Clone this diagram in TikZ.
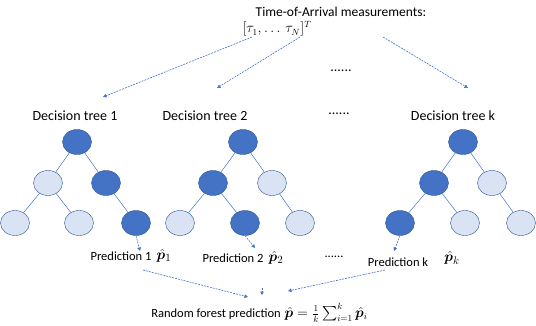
\documentclass[tikz,border=0pt]{standalone}
\usepackage{amsmath,bm}
\usepackage{fontspec}
\setmainfont{Carlito}
\usetikzlibrary{shapes.geometric,arrows.meta}
\definecolor{dk}{HTML}{4472C4}
\definecolor{lt}{HTML}{DAE3F3}
\definecolor{bd}{HTML}{2F5597}
\tikzset{
  dnode/.style={ellipse,minimum width=29pt,minimum height=25pt,inner sep=0pt,fill=dk,draw=bd,line width=0.4pt},
  lnode/.style={ellipse,minimum width=29pt,minimum height=25pt,inner sep=0pt,fill=lt,draw=bd,line width=0.4pt},
  edge/.style={draw=dk,line width=0.5pt},
  arr/.style={draw=dk,dashed,dash pattern=on 2pt off 1pt,line width=0.6pt,-{Triangle[length=3.5pt,width=3.5pt]}},
  lbl/.style={inner sep=0pt,font=\fontsize{14}{16}\selectfont},
  plbl/.style={inner sep=0pt,font=\fontsize{12.5}{14}\selectfont},
  mlbl/.style={inner sep=0pt,font=\fontsize{15}{17}\selectfont},
}
\begin{document}
\begin{tikzpicture}[x=1pt,y=-1pt]
\useasboundingbox (0,0) rectangle (536,326);
% top text
\node[lbl,font=\fontsize{13.5}{15}\selectfont] (toa) at (341,12) {Time-of-Arrival measurements:};
\node[lbl,font=\fontsize{13.5}{15}\selectfont] (vec) at (277,29) {$[\tau_1, \ldots\, \tau_N]^T$};
\node[lbl] (dtop) at (341,71) {......};
\coordinate (s1) at (252,37);
\coordinate (s2) at (300,37);
\coordinate (s3) at (383,37);
\coordinate (e1) at (103,97);
\coordinate (e2) at (217,88);
\coordinate (e3) at (468,88);
\draw[arr] (s1) -- (e1);
\draw[arr] (s2) -- (e2);
\draw[arr] (s3) -- (e3);
% labels
\node[lbl] (l1) at (75,116) {Decision tree 1};
\node[lbl] (l2) at (205,116) {Decision tree 2};
\node[lbl] (ldots) at (339,114) {......};
\node[lbl] (lk) at (453,116) {Decision tree k};
% tree 1
\node[dnode] (a0) at (77,142) {};
\node[lnode] (a1) at (48,183) {};
\node[dnode] (a2) at (106,183) {};
\node[lnode] (a3) at (15,223) {};
\node[lnode] (a4) at (79,223) {};
\node[dnode] (a5) at (136,223) {};
\draw[edge] (a0) -- (a1); \draw[edge] (a0) -- (a2);
\draw[edge] (a1) -- (a3); \draw[edge] (a1) -- (a4);
\draw[edge] (a2) -- (a5);
% tree 2
\node[dnode] (b0) at (243,142) {};
\node[dnode] (b1) at (213,183) {};
\node[lnode] (b2) at (272,183) {};
\node[lnode] (b3) at (180,223) {};
\node[dnode] (b4) at (245,223) {};
\node[lnode] (b5) at (300,223) {};
\draw[edge] (b0) -- (b1); \draw[edge] (b0) -- (b2);
\draw[edge] (b1) -- (b3); \draw[edge] (b1) -- (b4);
\draw[edge] (b2) -- (b5);
% tree k
\node[dnode] (c0) at (463,142) {};
\node[dnode] (c1) at (434,183) {};
\node[lnode] (c2) at (492,183) {};
\node[dnode] (c3) at (400,223) {};
\node[lnode] (c4) at (465,223) {};
\node[lnode] (c5) at (521,223) {};
\draw[edge] (c0) -- (c1); \draw[edge] (c0) -- (c2);
\draw[edge] (c1) -- (c3); \draw[edge] (c1) -- (c4);
\draw[edge] (c2) -- (c5);
% predictions
\node[plbl] (p1) at (121,256) {Prediction 1};
\node[mlbl] (p1m) at (164,256) {$\hat{\bm p}_1$};
\node[plbl] (p2) at (233,258) {Prediction 2};
\node[mlbl] (p2m) at (276,258) {$\hat{\bm p}_2$};
\node[plbl] (pdots) at (334,257) {......};
\node[plbl] (pk) at (398,262) {Prediction k};
\node[mlbl] (pkm) at (452,258) {$\hat{\bm p}_k$};
\coordinate (q1) at (140,251);
\coordinate (q2) at (255,248);
\coordinate (qk) at (394,251);
\draw[arr] (a5.south) -- (q1);
\draw[arr] (b4.south) -- (q2);
\draw[arr] (c3.south) -- (qk);
% bottom
\node[plbl] (rf) at (216,314) {Random forest prediction};
\node[mlbl,font=\fontsize{13.5}{15}\selectfont] (rfm) at (326,313) {$\hat{\bm p}=\tfrac{1}{k}\sum_{i=1}^{k}\hat{\bm p}_i$};
\coordinate (u1) at (143,270);
\coordinate (v1) at (248,297);
\coordinate (u2) at (262,288);
\coordinate (v2) at (262,295);
\coordinate (u3) at (385,270);
\coordinate (v3) at (288,291);
\draw[arr] (u1) -- (v1);
\draw[arr] (u2) -- (v2);
\draw[arr] (u3) -- (v3);
\end{tikzpicture}
\end{document}
